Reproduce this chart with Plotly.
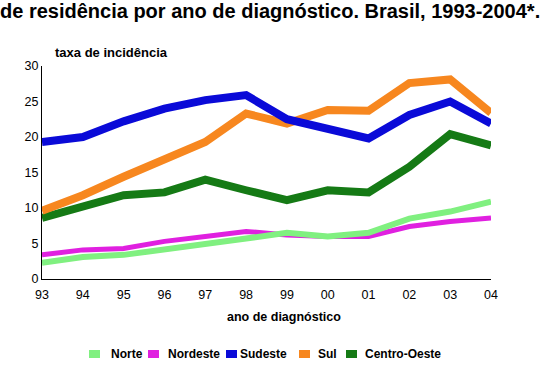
import plotly.graph_objects as go

anos = ["93", "94", "95", "96", "97", "98", "99", "00", "01", "02", "03", "04"]
norte = [2.3, 3.1, 3.4, 4.1, 4.9, 5.7, 6.5, 6.0, 6.5, 8.5, 9.5, 10.9]
nordeste = [3.4, 4.1, 4.3, 5.3, 6.0, 6.7, 6.2, 6.0, 6.0, 7.4, 8.1, 8.6]
sudeste = [19.3, 20.0, 22.2, 24.0, 25.2, 25.9, 22.5, 21.2, 19.8, 23.1, 25.0, 21.9]
sul = [9.6, 11.8, 14.4, 16.8, 19.3, 23.3, 21.9, 23.8, 23.7, 27.6, 28.1, 23.4]
centro_oeste = [8.6, 10.2, 11.8, 12.2, 14.0, 12.5, 11.1, 12.5, 12.2, 15.8, 20.4, 18.8]
y_ticks = [0, 5, 10, 15, 20, 25, 30]

series = [
    ("Norte", norte, "#80F080", 6),
    ("Nordeste", nordeste, "#E020E0", 5),
    ("Sudeste", sudeste, "#0A0AD8", 8),
    ("Sul", sul, "#F7871F", 8),
    ("Centro-Oeste", centro_oeste, "#157A15", 8),
]
# legend layout (pixel positions of swatch left edge and text left edge)
legend_swatch_x = [89, 148, 226, 299, 346]
legend_text_x = [109, 166, 238, 316, 363]

FONT = "Liberation Sans"
W, H = 560, 369
L, R, T, B = 42, 69, 66, 90
PW, PH = W - L - R, H - T - B


def px_x(px):
    return (px - L) / PW


def px_y(py):
    return (H - B - py) / PH


fig = go.Figure()
for name, vals, color, w in [series[1], series[0], series[4], series[3], series[2]]:
    fig.add_trace(go.Scatter(x=anos, y=vals, mode="lines", name=name,
                             line=dict(color=color, width=w), showlegend=False,
                             cliponaxis=False, hoverinfo="skip"))

annotations = [
    dict(text="<b>taxa de incidência</b>", xref="paper", yref="paper",
         x=px_x(53), y=px_y(52.5), xanchor="left", yanchor="middle", showarrow=False,
         font=dict(size=13)),
    dict(text="<b>ano de diagnóstico</b>", xref="paper", yref="paper",
         x=px_x(283.5), y=px_y(317), xanchor="center", yanchor="middle", showarrow=False,
         font=dict(size=12.5)),
]
shapes = []
leg_y = 354
for (name, vals, color, w), sx, tx in zip(series, legend_swatch_x, legend_text_x):
    shapes.append(dict(type="rect", xref="paper", yref="paper",
                       x0=px_x(sx), x1=px_x(sx + 11), y0=px_y(leg_y + 4), y1=px_y(leg_y - 4),
                       fillcolor=color, line=dict(width=0)))
    annotations.append(dict(text=f"<b>{name}</b>", xref="paper", yref="paper",
                            x=px_x(tx), y=px_y(leg_y), xanchor="left", yanchor="middle",
                            showarrow=False, font=dict(size=12)))

fig.update_layout(
    width=W, height=H,
    margin=dict(l=L, r=R, t=T, b=B),
    paper_bgcolor="white", plot_bgcolor="white",
    font=dict(family=FONT, color="black", size=12),
    showlegend=False,
    title=dict(text="<b>de residência por ano de diagnóstico. Brasil, 1993-2004*.</b>",
               x=0, xanchor="left", xref="container", y=1 - 4 / H, yanchor="top", yref="container",
               font=dict(family=FONT, size=20, color="black"), pad=dict(l=0, t=0)),
    xaxis=dict(type="category", range=[0, 11], showgrid=False, zeroline=False,
               showline=True, linecolor="black", linewidth=1, ticks="",
               tickfont=dict(size=12.5), automargin=False, ticklabelstandoff=4),
    yaxis=dict(range=[0, 30], tickvals=y_ticks, showgrid=False, zeroline=False,
               showline=True, linecolor="black", linewidth=1, ticks="",
               tickfont=dict(size=12.5), automargin=False),
    annotations=annotations,
    shapes=shapes,
)
fig.write_html("out.html", config={"displayModeBar": False, "staticPlot": True},
               post_script="document.body.style.margin='0';document.body.style.overflow='hidden';")
